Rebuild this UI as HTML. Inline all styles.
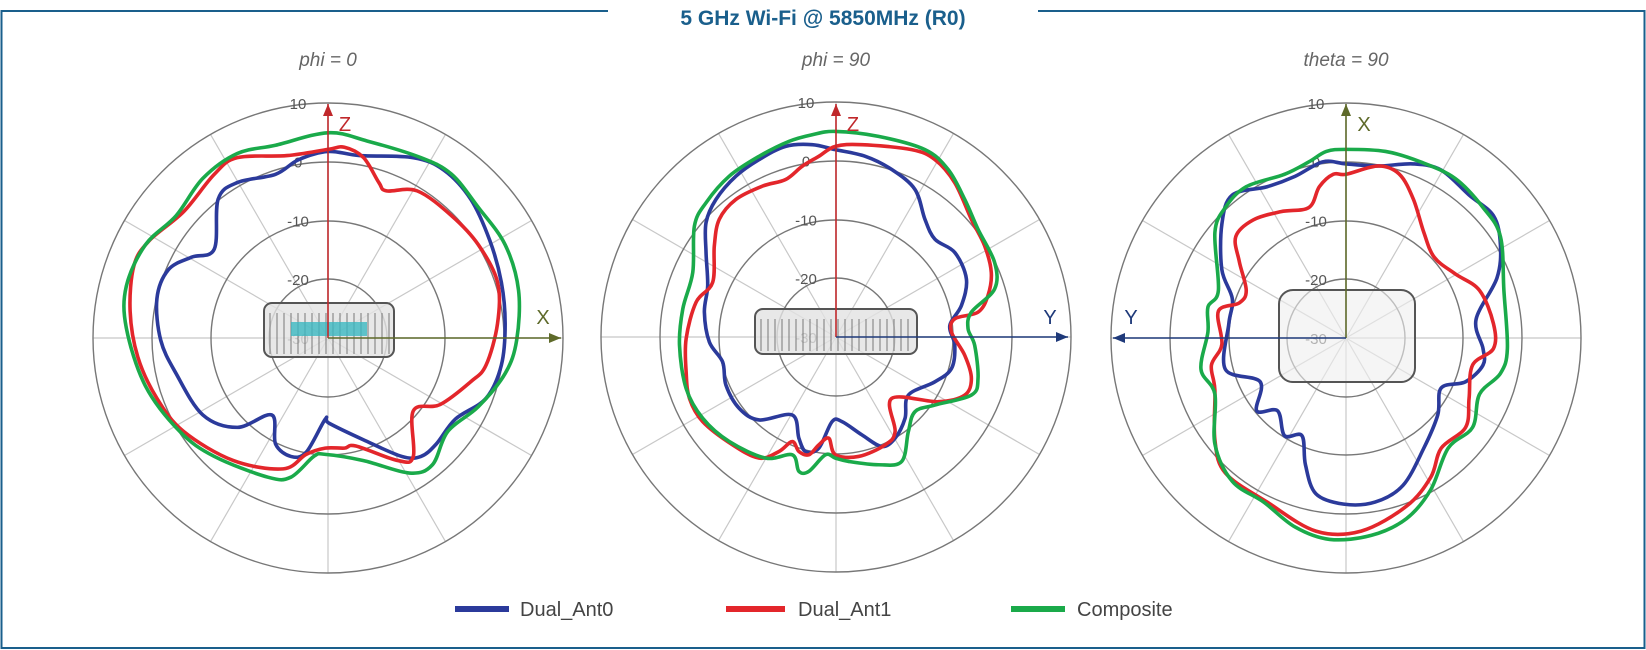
<!DOCTYPE html>
<html><head><meta charset="utf-8"><style>
body{margin:0;background:#fff;width:1646px;height:650px;overflow:hidden;font-family:"Liberation Sans",sans-serif}
svg{position:absolute;left:0;top:0}
</style></head><body>
<svg id="s" width="1646" height="650" viewBox="0 0 1646 650">
<rect x="1.5" y="11" width="1643" height="637" fill="none" stroke="#1a5f8c" stroke-width="2"/>
<rect x="608" y="0" width="430" height="24" fill="#fff"/>
<text x="823" y="25" text-anchor="middle" font-size="21" font-weight="bold" fill="#1a5f8c">5 GHz Wi-Fi @ 5850MHz (R0)</text>
<g font-style="italic" font-size="19" fill="#666" text-anchor="middle">
<text x="328" y="66">phi = 0</text><text x="836" y="66">phi = 90</text><text x="1346" y="66">theta = 90</text></g>
<g id="g"></g>
<g font-size="20" fill="#444">
<line x1="455" y1="609" x2="509" y2="609" stroke="#2b3a9b" stroke-width="6"/><text x="520" y="616">Dual_Ant0</text>
<line x1="726" y1="609" x2="785" y2="609" stroke="#e3262b" stroke-width="6"/><text x="798" y="616">Dual_Ant1</text>
<line x1="1011" y1="609" x2="1065" y2="609" stroke="#1aaa4a" stroke-width="6"/><text x="1077" y="616">Composite</text>
</g>
</svg>
<script>
var g=document.getElementById('g'),NS='http://www.w3.org/2000/svg',h='';
function grid(cx,cy){
 for(var a=0;a<360;a+=30){var t=a*Math.PI/180;h+='<line x1="'+cx+'" y1="'+cy+'" x2="'+(cx+235*Math.sin(t))+'" y2="'+(cy-235*Math.cos(t))+'" stroke="#c8c8c8" stroke-width="1.2"/>';}
 [235,176,117,59].forEach(function(r){h+='<circle cx="'+cx+'" cy="'+cy+'" r="'+r+'" fill="none" stroke="#777" stroke-width="1.4"/>';});
 var L=['10','0','-10','-20','-30'];for(var i=0;i<5;i++)h+='<text x="'+(cx-30)+'" y="'+(cy-235+i*58.7+6)+'" text-anchor="middle" font-size="15" fill="#555">'+L[i]+'</text>';
}
function dev(x1,y1,x2,y2){h+='<rect x="'+x1+'" y="'+y1+'" width="'+(x2-x1)+'" height="'+(y2-y1)+'" rx="8" fill="#e2e2e2" fill-opacity=".8" stroke="#555" stroke-width="2"/>';
 for(var x=x1+6;x<x2-4;x+=7)h+='<line x1="'+x+'" y1="'+(y1+10)+'" x2="'+x+'" y2="'+(y2-3)+'" stroke="#777" stroke-width="1"/>';}
function curve(pts,ox,oy,sx,sy,col){
 var p=pts.map(function(q){return [ox+q[0]/sx,oy+q[1]/sy]}),n=p.length,d='M'+p[0][0]+','+p[0][1];
 for(var i=0;i<n;i++){var p0=p[(i-1+n)%n],p1=p[i],p2=p[(i+1)%n],p3=p[(i+2)%n];
  d+='C'+(p1[0]+(p2[0]-p0[0])/6)+','+(p1[1]+(p2[1]-p0[1])/6)+' '+(p2[0]-(p3[0]-p1[0])/6)+','+(p2[1]-(p3[1]-p1[1])/6)+' '+p2[0]+','+p2[1];}
 h+='<path d="'+d+'Z" fill="none" stroke="'+col+'" stroke-width="3.6" stroke-linejoin="round"/>';}
function arrow(x1,y1,x2,y2,col){var a=Math.atan2(y2-y1,x2-x1),c=Math.cos(a),s=Math.sin(a);
 h+='<line x1="'+x1+'" y1="'+y1+'" x2="'+x2+'" y2="'+y2+'" stroke="'+col+'" stroke-width="1.6"/>';
 h+='<polygon points="'+x2+','+y2+' '+(x2-12*c-5*s)+','+(y2-12*s+5*c)+' '+(x2-12*c+5*s)+','+(y2-12*s-5*c)+'" fill="'+col+'"/>';}
var B='#2b3a9b',R='#e3262b',G='#1aaa4a',OL='#5e6a2a',NV='#1f3a7a';
// left
grid(328,338);dev(264,303,394,357);
h+='<rect x="291" y="322" width="76" height="14" fill="#3bb8c0" opacity=".8"/>';
curve([[857,365],[940,375],[1080,380],[1160,410],[1230,480],[1280,580],[1310,680],[1320,780],[1310,880],[1270,960],[1190,1010],[1140,1070],[1100,1100],[1050,1100],[950,1060],[860,1020],[850,1010],[800,1090],[760,1100],[720,1070],[710,1000],[620,1030],[530,1000],[460,900],[420,820],[410,720],[440,650],[500,620],[560,600],[570,480],[620,440],[720,420],[780,385]],0,0,2.613,2.41,B);
curve([[857,360],[900,355],[950,380],[990,440],[1010,460],[1090,460],[1180,520],[1250,590],[1300,680],[1300,780],[1270,880],[1230,920],[1150,975],[1080,990],[1080,1100],[1040,1110],[930,1075],[900,1080],[850,1080],[800,1095],[740,1130],[610,1110],[480,1040],[410,960],[360,860],[340,750],[350,640],[390,580],[480,510],[560,420],[620,380],[750,375]],0,0,2.613,2.41,R);
curve([[857,320],[960,340],[1100,380],[1180,420],[1250,500],[1320,590],[1355,700],[1350,820],[1320,900],[1250,980],[1170,1040],[1130,1120],[1070,1140],[950,1110],[850,1095],[820,1100],[760,1150],[700,1150],[560,1100],[470,1040],[380,930],[330,790],[330,690],[380,590],[460,520],[530,430],[620,370],[720,350]],0,0,2.613,2.41,G);
arrow(328,338,328,104,'#c0282b');arrow(328,338,561,338,OL);
h+='<text x="345" y="131" font-size="20" fill="#c0282b" text-anchor="middle">Z</text><text x="543" y="324" font-size="20" fill="'+OL+'" text-anchor="middle">X</text>';
// middle
grid(836,337);dev(755,309,917,354);
curve([[770,210],[700,195],[620,200],[540,240],[470,290],[410,360],[380,430],[380,520],[385,620],[375,700],[390,790],[430,850],[440,920],[480,990],[540,1025],[640,1010],[660,1080],[680,1120],[720,1110],[760,1030],[790,1030],[850,1070],[910,1105],[950,1080],[980,1020],[990,950],[1070,910],[1120,870],[1130,800],[1115,740],[1150,680],[1165,600],[1130,520],[1070,480],[1040,420],[1010,330],[940,270],[860,230]],580,80,3.015,3.015,B);
curve([[770,200],[850,195],[1000,210],[1070,240],[1130,310],[1180,420],[1220,500],[1240,580],[1230,650],[1200,700],[1130,720],[1120,760],[1160,830],[1180,900],[1160,950],[1080,970],[940,960],[950,1060],[920,1100],[840,1135],[770,1130],[750,1080],[720,1100],[690,1130],[660,1120],[640,1090],[600,1120],[540,1140],[460,1100],[370,1030],[330,960],[320,880],[320,780],[350,670],[400,610],[405,500],[420,420],[470,360],[550,320],[620,300],[670,260],[720,230]],580,80,3.015,3.015,R);
curve([[770,155],[900,170],[1040,210],[1110,270],[1160,360],[1200,450],[1250,550],[1250,630],[1180,700],[1170,750],[1190,800],[1200,900],[1180,950],[1070,980],[1010,1000],[990,1060],[970,1150],[900,1160],[810,1150],[770,1140],[740,1130],[690,1180],[660,1180],[640,1130],[560,1140],[450,1090],[370,1020],[320,930],[300,800],[310,690],[340,580],[345,440],[380,370],[450,290],[540,230],[630,185],[700,165]],580,80,3.015,3.015,G);
arrow(836,337,836,104,'#c0282b');arrow(836,337,1068,337,NV);
h+='<text x="853" y="131" font-size="20" fill="#c0282b" text-anchor="middle">Z</text><text x="1050" y="324" font-size="20" fill="'+NV+'" text-anchor="middle">Y</text>';
// right
grid(1346,338);
h+='<rect x="1279" y="290" width="136" height="92" rx="14" fill="#eee" fill-opacity=".6" stroke="#555" stroke-width="2"/>';
curve([[707,395],[800,400],[900,395],[980,410],[1060,470],[1130,520],[1150,590],[1140,670],[1080,770],[1100,840],[1100,880],[1050,920],[980,935],[970,1000],[930,1080],[870,1170],[790,1210],[700,1215],[620,1190],[590,1120],[580,1050],[530,1050],[510,990],[450,990],[460,920],[360,890],[370,780],[380,720],[350,650],[350,540],[380,470],[480,450],[560,425],[640,390]],1100,0,2.872,2.41,B);
curve([[707,420],[800,400],[860,420],[900,480],[930,560],[960,620],[1020,660],[1090,700],[1130,780],[1130,840],[1070,880],[1060,960],[1050,1030],[980,1080],[950,1150],[880,1220],[750,1280],[620,1280],[480,1210],[360,1140],[330,1060],[330,940],[320,880],[350,830],[340,750],[400,730],[420,700],[400,630],[390,570],[440,530],[520,510],[600,500],[630,450],[670,420]],1100,0,2.872,2.41,R);
curve([[707,360],[820,365],[920,390],[1020,430],[1100,500],[1150,570],[1160,700],[1170,840],[1150,900],[1090,950],[1070,1030],[1000,1080],[950,1180],[880,1250],[780,1290],[660,1300],[560,1270],[470,1210],[380,1160],[330,1070],[330,950],[290,890],[310,800],[310,740],[340,700],[330,560],[360,500],[420,450],[530,420],[600,390],[650,365]],1100,0,2.872,2.41,G);
arrow(1346,338,1346,104,OL);arrow(1346,338,1113,338,NV);
h+='<text x="1364" y="131" font-size="20" fill="'+OL+'" text-anchor="middle">X</text><text x="1131" y="324" font-size="20" fill="'+NV+'" text-anchor="middle">Y</text>';
g.innerHTML=h;
</script>
</body></html>
